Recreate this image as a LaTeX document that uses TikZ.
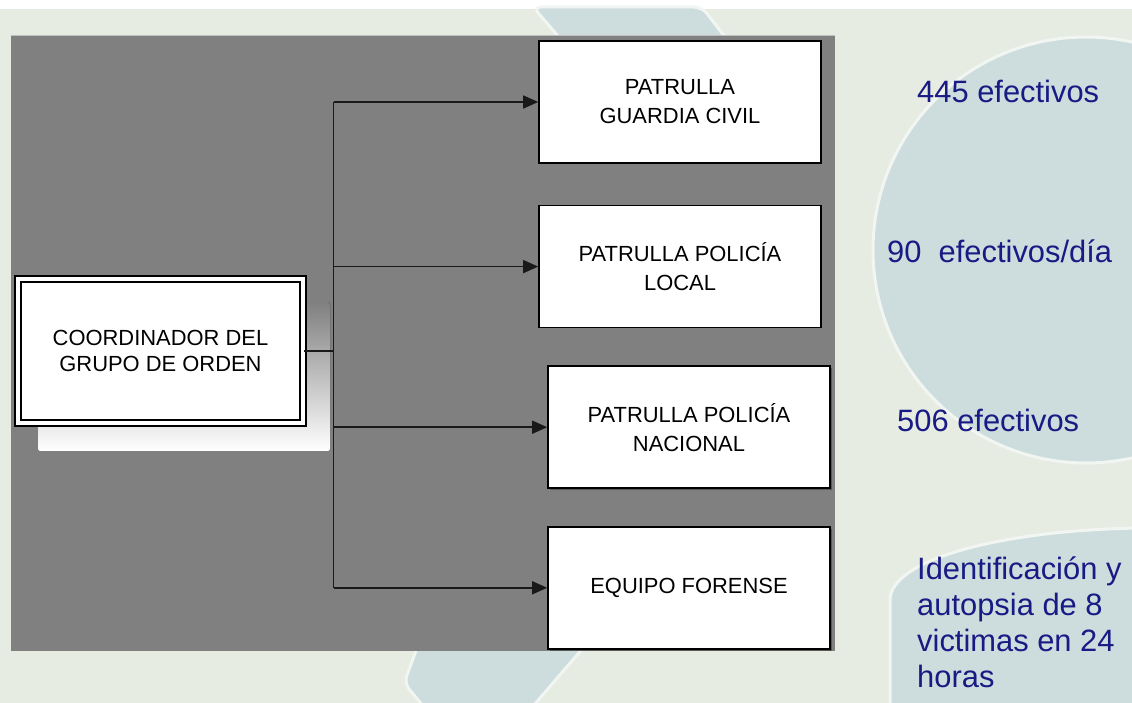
\documentclass[tikz,border=0pt]{standalone}
\usepackage{fontspec}
\setmainfont{Liberation Sans}
\usetikzlibrary{arrows.meta, positioning, shadows}
\definecolor{bgpale}{HTML}{E6ECE2}
\definecolor{bgblue}{HTML}{CDDDDD}
\definecolor{rim}{HTML}{F2F6F2}
\definecolor{panel}{HTML}{808080}
\definecolor{shade}{HTML}{CCCCCC}
\definecolor{navy}{HTML}{1A1A85}

\begin{document}
\begin{tikzpicture}[x=1bp, y=-1bp,
      box/.style={draw=black, fill=white, line width=1.6bp, minimum width=282bp,
                  minimum height=122bp, align=center, inner sep=0pt,
                  font=\fontsize{22}{29}\selectfont},
      boss/.style={box, double=white, double distance=4.5bp, line width=1.4bp,
                   minimum width=285bp, minimum height=144bp, font=\fontsize{22}{27}\selectfont},
      shadowed/.style={drop shadow={shadow xshift=2bp, shadow yshift=-2bp, fill=black!65, opacity=1}},
      wire/.style={line width=1.5bp, black!90},
      arr/.style={-{Triangle[length=15bp, width=13bp]}, wire},
      tally/.style={text=navy, inner sep=0pt, font=\fontsize{31}{36}\selectfont},
      deco/.style={fill=bgblue, draw=rim, line width=3bp}]
    \fill[bgpale] (0,0) rectangle (1132,703);
    \fill[white] (0,0) rectangle (1132,9);
    \useasboundingbox (0,0) rectangle (1132,703);
    \filldraw[deco, rounded corners=8bp] (533,7) -- (702,7) -- (735,50) -- (570,50) -- cycle;
    \filldraw[deco, rounded corners=8bp] (420,640) -- (590,640) -- (528,712) -- (428,712) -- (404,683) -- cycle;
    \filldraw[deco] (1086,250) circle (213bp);
    \filldraw[deco] (890,710) -- (890,600) .. controls (890,560) and (1000,530) .. (1140,528) -- (1140,710) -- cycle;
    \fill[panel] (11,36) rectangle (835,651);
    \draw[black!25, line width=1bp] (11,36) -- (835,36);
    \fill[shade, rounded corners=2bp] (38,302) rectangle (330,451);

    \node[boss] (lead) at (160.5,351) {COORDINADOR DEL\\GRUPO DE ORDEN};
    \node[box] (civil) at (680,102) {PATRULLA\\GUARDIA CIVIL};
    \node[box, below=41bp of civil] (local) {PATRULLA POLICÍA\\LOCAL};
    \node[box, shadowed, below=37bp of local, xshift=9bp] (nacional) {PATRULLA POLICÍA\\NACIONAL};
    \node[box, shadowed, below=37bp of nacional] (forense) {EQUIPO FORENSE};

    \coordinate (trunk) at ([xshift=30bp]lead.east);
    \draw[wire] (lead.east) -- (trunk);
    \draw[wire] (trunk |- civil.west) -- (trunk |- forense.west);
    \foreach \b in {civil, local, nacional, forense}
      \draw[arr] (trunk |- \b.west) -- (\b.west);

    \node[tally, anchor=base west] (gc) at (917,103) {445 efectivos};
    \node[tally, anchor=base west] (pl) at (887,262) {90\ \ efectivos/día};
    \node[tally, anchor=base west] (pn) at (897,431) {506 efectivos};
    \node[tally, anchor=north west, align=left] (fo) at (917,557)
      {Identificación y\\autopsia de 8\\victimas en 24\\horas};
  \end{tikzpicture}
\end{document}
